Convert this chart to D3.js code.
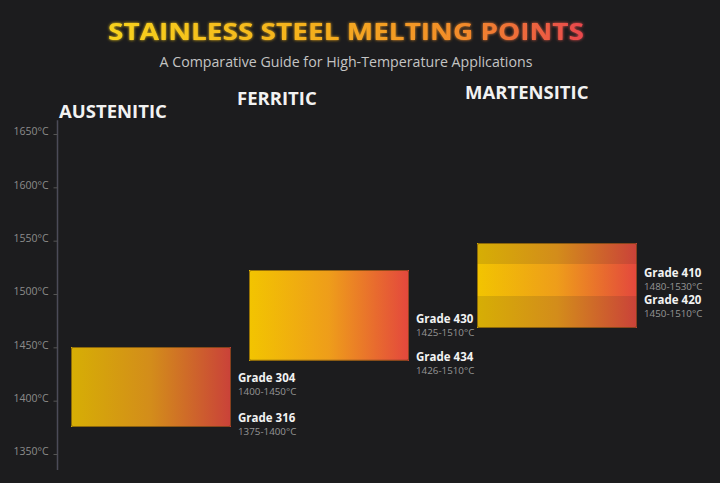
<!DOCTYPE html>
<html>
<head>
<meta charset="utf-8">
<script src="https://cdn.jsdelivr.net/npm/d3@7"></script>
<style>
  body { margin: 0; background: #1c1c1e; }
  svg { display: block; }
</style>
</head>
<body>
<div id="chart-container"></div>
<script>
// data
const categories = ["AUSTENITIC", "FERRITIC", "MARTENSITIC"];
const grades = ["Grade 304", "Grade 316", "Grade 430", "Grade 434", "Grade 410", "Grade 420"];
const gradeCategory = ["AUSTENITIC", "AUSTENITIC", "FERRITIC", "FERRITIC", "MARTENSITIC", "MARTENSITIC"];
const meltLow = [1400, 1375, 1425, 1426, 1480, 1450];
const meltHigh = [1450, 1400, 1510, 1510, 1530, 1510];
const tickValues = [1350, 1400, 1450, 1500, 1550, 1600, 1650];

// layout
const width = 720, height = 483;
const groupX = [71, 249, 477];
const groupShift = [0, -13.5, -19];
const boxWidth = 160;

const svg = d3.select("#chart-container")
    .append("svg")
    .attr("width", width)
    .attr("height", height);

const defs = svg.append("defs");

// title gradient
const tg = defs.append("linearGradient").attr("id", "titleGrad");
tg.append("stop").attr("offset", "0%").attr("stop-color", "#f7d21c");
tg.append("stop").attr("offset", "45%").attr("stop-color", "#f5ae1e");
tg.append("stop").attr("offset", "75%").attr("stop-color", "#f28a2a");
tg.append("stop").attr("offset", "100%").attr("stop-color", "#e9474d");

// box gradient
const bg = defs.append("linearGradient").attr("id", "boxGrad");
bg.append("stop").attr("offset", "0%").attr("stop-color", "#f7c800");
bg.append("stop").attr("offset", "50%").attr("stop-color", "#f3a01a");
bg.append("stop").attr("offset", "100%").attr("stop-color", "#e8483e");

const glow = defs.append("filter").attr("id", "glow")
    .attr("x", "-5%").attr("y", "-30%").attr("width", "110%").attr("height", "160%");
glow.append("feGaussianBlur").attr("stdDeviation", 1.6).attr("result", "b");
const merge = glow.append("feMerge");
merge.append("feMergeNode").attr("in", "b");
merge.append("feMergeNode").attr("in", "SourceGraphic");

// title
svg.append("text")
    .attr("x", 346).attr("y", 40)
    .attr("text-anchor", "middle")
    .attr("font-family", "'Open Sans', sans-serif")
    .attr("font-weight", 700)
    .attr("font-size", 24)
    .attr("textLength", 476)
    .attr("lengthAdjust", "spacingAndGlyphs")
    .attr("fill", "url(#titleGrad)")
    .attr("filter", "url(#glow)")
    .text("STAINLESS STEEL MELTING POINTS");

svg.append("text")
    .attr("x", 346).attr("y", 67)
    .attr("text-anchor", "middle")
    .attr("font-family", "'Open Sans', sans-serif")
    .attr("font-size", 14.2)
    .attr("fill", "#c4c4c4")
    .text("A Comparative Guide for High-Temperature Applications");

// scales
const y = d3.scaleLinear().domain([1350, 1650]).range([454, 134]);
const x = d3.scaleOrdinal().domain(categories).range(groupX);
const shift = d3.scaleOrdinal().domain(categories).range(groupShift);
const py = (v, c) => Math.round(y(v) + shift(c));

// axis
const axisX = 57.5;
svg.append("line")
    .attr("x1", axisX).attr("x2", axisX)
    .attr("y1", y(1663)).attr("y2", y(1335))
    .attr("stroke", "#4b4b58").attr("stroke-width", 1.5);

const axis = svg.append("g")
    .attr("transform", `translate(${axisX},0)`)
    .call(d3.axisLeft(y).tickValues(tickValues).tickSize(4).tickPadding(5)
        .tickFormat(d => d + "°C"));
axis.select(".domain").remove();
axis.selectAll(".tick line").attr("stroke", "#555");
axis.selectAll(".tick text")
    .attr("fill", "#8c8c8c")
    .attr("font-family", "'Open Sans', sans-serif")
    .attr("font-size", 10.5)
    .attr("dy", "0.08em");

// category headers
svg.selectAll(".cat")
    .data(categories)
    .enter()
    .append("text")
    .attr("class", "cat")
    .attr("x", d => x(d) - 12)
    .attr("y", d => y(1650) - 16 + shift(d))
    .attr("font-family", "'Open Sans', sans-serif")
    .attr("font-weight", 700)
    .attr("font-size", 18.5)
    .attr("fill", "#f2f2f2")
    .text(d => d);

const rows = grades.map((g, i) => ({
    grade: g, cat: gradeCategory[i], low: meltLow[i], high: meltHigh[i]
}));

// boxes
svg.selectAll(".box")
    .data(rows)
    .enter()
    .append("rect")
    .attr("class", "box")
    .attr("x", d => x(d.cat))
    .attr("y", d => py(d.high, d.cat))
    .attr("width", boxWidth)
    .attr("height", d => py(d.low, d.cat) - py(d.high, d.cat))
    .attr("shape-rendering", "crispEdges")
    .attr("fill", "url(#boxGrad)")
    .attr("fill-opacity", 0.85);

// one thin outline around each group
const spans = categories.map(c => {
    const r = rows.filter(d => d.cat === c);
    return { cat: c, low: d3.min(r, d => d.low), high: d3.max(r, d => d.high) };
});
svg.selectAll(".outline")
    .data(spans)
    .enter()
    .append("rect")
    .attr("class", "outline")
    .attr("x", d => x(d.cat) + 0.5)
    .attr("y", d => py(d.high, d.cat) + 0.5)
    .attr("width", boxWidth - 1)
    .attr("height", d => py(d.low, d.cat) - py(d.high, d.cat) - 1)
    .attr("rx", 1.5)
    .attr("fill", "none")
    .attr("stroke", "#5a3d0c")
    .attr("stroke-opacity", 0.6)
    .attr("stroke-width", 1);

// labels, pushed down when two grades sit at the same height
const lastY = {};
rows.forEach(d => {
    let ly = y((d.low + d.high) / 2) + shift(d.cat) + 3;
    if (lastY[d.cat] !== undefined && ly - lastY[d.cat] < 20) ly = lastY[d.cat] + 38;
    lastY[d.cat] = ly;
    d.ly = ly;
});

const labels = svg.selectAll(".lbl")
    .data(rows)
    .enter()
    .append("g")
    .attr("class", "lbl")
    .attr("transform", d => `translate(${x(d.cat) + boxWidth + 7},${d.ly})`);

labels.append("text")
    .attr("y", 4.5)
    .attr("font-family", "'Open Sans', sans-serif")
    .attr("font-weight", 700)
    .attr("font-size", 11.5)
    .attr("fill", "#f2f2f2")
    .text(d => d.grade);

labels.append("text")
    .attr("y", 17.5)
    .attr("font-family", "'Open Sans', sans-serif")
    .attr("font-size", 9.8)
    .attr("fill", "#969696")
    .text(d => d.low + "-" + d.high + "°C");
</script>
</body>
</html>
